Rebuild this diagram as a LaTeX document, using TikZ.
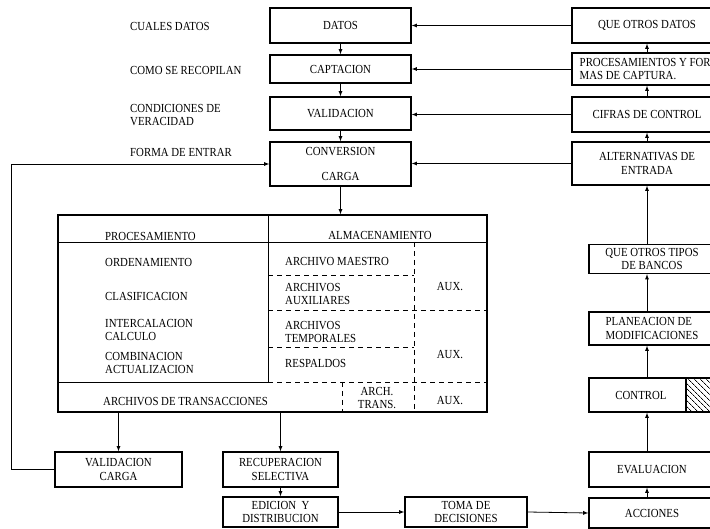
\documentclass[tikz,border=0pt]{standalone}
\usepackage{fontspec}
\setmainfont{Liberation Serif}[FakeStretch=0.88]
\usetikzlibrary{arrows, patterns.meta}

\tikzset{
  caja/.style={draw, line width=1.3pt, align=center, inner sep=1pt},
  flecha/.style={line width=0.8pt, -latex},
  linea/.style={line width=0.9pt},
  punteada/.style={line width=0.8pt, dash pattern=on 5pt off 4pt},
  txt/.style={align=left, anchor=west, inner sep=0pt},
}

\begin{document}
\begin{tikzpicture}[x=1pt, y=-1pt, font=\fontsize{12.3}{13.5}\selectfont]
  \useasboundingbox (0,0) rectangle (710,529);
  \clip (0,0) rectangle (710,529);
  %Preguntas de la izquierda:
  \node[txt] (q1) at (130,26) {CUALES DATOS};
  \node[txt] (q2) at (130,70) {COMO SE RECOPILAN};
  \node[txt] (q3) at (130,115) {CONDICIONES DE\\VERACIDAD};
  \node[txt] (q4) at (130,152) {FORMA DE ENTRAR};

  %Columna central:
  \node[caja, minimum width=141, minimum height=35] (datos) at (340.5,25.5) {DATOS};
  \node[caja, minimum width=141, minimum height=28] (capt) at (340.5,69) {CAPTACION};
  \node[caja, minimum width=141, minimum height=33] (valid) at (340.5,113.5) {VALIDACION};
  \node[caja, minimum width=141, minimum height=44] (conv) at (340.5,164) {CONVERSION\\[11pt]CARGA};
  \foreach \a/\b in {datos/capt, capt/valid, valid/conv}
    \draw[flecha] (\a.south) -- (\b.north);

  %Columna derecha (cortada por el borde):
  \node[caja, minimum width=150, minimum height=35] (qod) at (647,25.5) {QUE OTROS DATOS};
  \node[caja, minimum width=150, minimum height=32, align=left] (proc) at (647,69) {PROCESAMIENTOS Y FOR-\\MAS DE CAPTURA.};
  \node[caja, minimum width=150, minimum height=35] (cif) at (647,114.5) {CIFRAS DE CONTROL};
  \node[caja, minimum width=150, minimum height=43] (alt) at (647,163.5) {ALTERNATIVAS DE\\ENTRADA};
  \node[caja, minimum width=126, minimum height=29] (qtb) at (652,259) {QUE OTROS TIPOS\\DE BANCOS};
  \node[caja, minimum width=126, minimum height=33, align=left] (plan) at (652,328.5) {PLANEACION DE\\MODIFICACIONES};
  \node[caja, minimum width=126, minimum height=34] (ctrl) at (652,395) {CONTROL\hspace{22pt}};
  \node[caja, minimum width=126, minimum height=35] (eval) at (652,469.5) {EVALUACION};
  \node[caja, minimum width=126, minimum height=30] (acc) at (652,513) {ACCIONES};
  %La parte rayada de CONTROL:
  \coordinate (raya) at (686,0);
  \fill[pattern={Lines[angle=-45, distance=4pt, line width=0.7pt]}] (ctrl.south east -| raya) rectangle (ctrl.north east);
  \draw[line width=1.1pt] (ctrl.south east -| raya) -- (ctrl.north east -| raya);

  \coordinate (eje) at (647,0);
  \foreach \a/\b in {acc/eval, eval/ctrl, ctrl/plan, plan/qtb, qtb/alt, alt/cif, cif/proc, proc/qod}
    \draw[flecha] (\a.north -| eje) -- (\b.south -| eje);
  \foreach \a/\b in {qod/datos, proc/capt, cif/valid, alt/conv}
    \draw[flecha] (\a.west) -- (\a.west -| \b.east);

  %La tabla:
  \node[caja, minimum width=429, minimum height=197] (tabla) at (272.5,313.5) {};
  \draw[linea] (58,242) -- (487,242);
  \draw[linea] (268,215) -- (268,382);
  \draw[linea] (58,382) -- (268,382);
  \draw[punteada] (268,382) -- (487,382);
  \draw[punteada] (268,275) -- (414,275);
  \draw[punteada] (268,310) -- (487,310);
  \draw[punteada] (268,347) -- (414,347);
  \draw[punteada] (414,242) -- (414,412);
  \draw[punteada] (342,382) -- (342,412);
  \draw[flecha] (conv.south) -- (conv.south |- tabla.north);

  \node[txt] (proc1) at (105,236) {PROCESAMIENTO};
  \node[txt] (proc2) at (105,262) {ORDENAMIENTO};
  \node[txt] (proc3) at (105,296) {CLASIFICACION};
  \node[txt] (proc4) at (105,330) {INTERCALACION\\CALCULO};
  \node[txt] (proc5) at (105,363) {COMBINACION\\ACTUALIZACION};
  \node[txt] (trans) at (103,402) {ARCHIVOS DE TRANSACCIONES};
  \node (alm) at (380,235) {ALMACENAMIENTO};
  \node[txt] (alm1) at (285,262) {ARCHIVO MAESTRO};
  \node[txt] (alm2) at (285,294) {ARCHIVOS\\AUXILIARES};
  \node[txt] (alm3) at (285,332) {ARCHIVOS\\TEMPORALES};
  \node[txt] (alm4) at (285,363) {RESPALDOS};
  \node[align=center] (alm5) at (377,398) {ARCH.\\TRANS.};
  \node (aux1) at (450,287) {AUX.};
  \node (aux2) at (450,355) {AUX.};
  \node (aux3) at (450,401) {AUX.};

  %Parte de abajo:
  \node[caja, minimum width=127, minimum height=35] (valc) at (118.5,469.5) {VALIDACION\\CARGA};
  \node[caja, minimum width=115, minimum height=35] (recu) at (280.5,469.5) {RECUPERACION\\SELECTIVA};
  \node[caja, minimum width=115, minimum height=30] (edic) at (280.5,512) {EDICION~~Y\\DISTRIBUCION};
  \node[caja, minimum width=122, minimum height=30] (toma) at (466,512) {TOMA DE\\DECISIONES};
  \draw[flecha] (valc.north |- tabla.south) -- (valc.north);
  \draw[flecha] (recu.north |- tabla.south) -- (recu.north);
  \draw[flecha] (recu.south) -- (edic.north);
  \draw[flecha] (edic.east) -- (toma.west);
  \draw[flecha] (toma.east) -- (acc.west);
  %El regreso a CONVERSION:
  \coordinate (lazo) at (11,0);
  \draw[flecha] (valc.west) -- (valc.west -| lazo) -- (lazo |- conv.west) -- (conv.west);
\end{tikzpicture}
\end{document}
